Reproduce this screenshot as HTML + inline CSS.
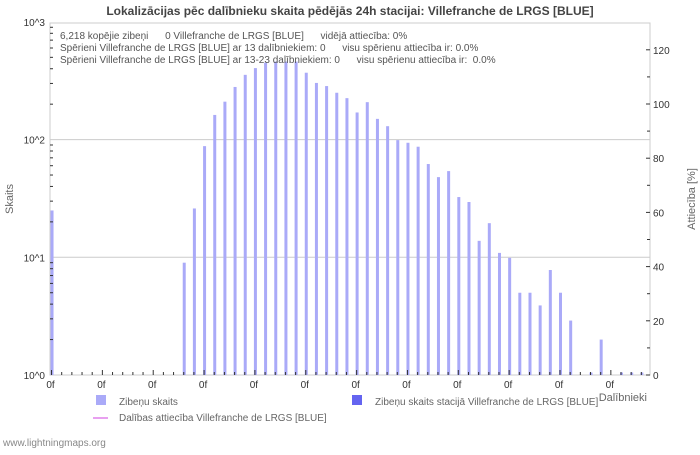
<!DOCTYPE html>
<html><head><meta charset="utf-8"><style>
body{margin:0;background:#fff;width:700px;height:450px;overflow:hidden;font-family:"Liberation Sans",sans-serif}
svg text{font-family:"Liberation Sans",sans-serif}
.pre{white-space:pre}
</style></head><body>
<svg id="c" width="700" height="450" xmlns="http://www.w3.org/2000/svg">
<text x="350" y="15" text-anchor="middle" font-size="12" font-weight="bold" fill="#444">Lokalizācijas pēc dalībnieku skaita pēdējās 24h stacijai: Villefranche de LRGS [BLUE]</text>
<g id="grid"></g><g id="bars"></g><g id="axes"></g>
<g font-size="10" fill="#555" class="pre">
<text class="pre" x="60" y="39">6,218 kopējie zibeņi      0 Villefranche de LRGS [BLUE]      vidējā attiecība: 0%</text>
<text class="pre" x="60" y="51">Spērieni Villefranche de LRGS [BLUE] ar 13 dalībniekiem: 0      visu spērienu attiecība ir: 0.0%</text>
<text class="pre" x="60" y="63">Spērieni Villefranche de LRGS [BLUE] ar 13-23 dalībniekiem: 0      visu spērienu attiecība ir:  0.0%</text>
</g>
<text transform="translate(13,199) rotate(-90)" text-anchor="middle" font-size="11" fill="#666">Skaits</text>
<text transform="translate(695,199) rotate(-90)" text-anchor="middle" font-size="11" fill="#666">Attiecība [%]</text>
<text x="647" y="401" text-anchor="end" font-size="11" fill="#666">Dalībnieki</text>
<g font-size="10" fill="#666">
<rect x="96" y="395" width="10" height="10" fill="#aaaaf8"/>
<text x="119" y="405">Zibeņu skaits</text>
<rect x="352" y="395" width="10" height="10" fill="#6464f0"/>
<text x="375" y="405">Zibeņu skaits stacijā Villefranche de LRGS [BLUE]</text>
<line x1="93" y1="418" x2="108" y2="418" stroke="#e8a0f0" stroke-width="2"/>
<text x="119" y="421">Dalības attiecība Villefranche de LRGS [BLUE]</text>
</g>
<text x="3" y="446" font-size="10" fill="#888">www.lightningmaps.org</text>
</svg>
<script>
const counts=[25,0,0,0,0,0,0,0,0,0,0,0,0,9,26,88,162,210,280,355,405,450,460,460,460,370,303,285,250,225,170,208,150,130,99,94,87,62,48,54,32.5,29.5,13.8,19.5,10.9,9.9,5,5,3.9,7.8,5,2.9,0,1.05,2,0,1.05,1.05,1.05];
const stationCounts=counts.map(()=>0);
const leftTicks=["10^0","10^1","10^2","10^3"];
const rightTicks=[0,20,40,60,80,100,120];
const xLabel="0f";
const NS="http://www.w3.org/2000/svg";
const X0=50,X1=650,Y0=375,Y1=23,DEC=117.7,SLOT=600/59;
function yLog(v){return Y0-Math.log10(Math.max(v,1))*DEC;}
function yPct(p){return Y0-p*2.71;}
function xBar(i){return X0+(i+0.15)*SLOT;}
function mk(t,a,p){const e=document.createElementNS(NS,t);for(const k in a)e.setAttribute(k,a[k]);(p||document.getElementById('axes')).appendChild(e);return e;}
const grid=document.getElementById('grid'),bars=document.getElementById('bars');
for(let d=1;d<=2;d++){const g=mk('line',{x1:X0,x2:X1,y1:Y0-d*DEC,y2:Y0-d*DEC,stroke:'#ccc','stroke-width':1},grid);

}
const fr=mk('rect',{x:X0,y:Y1,width:X1-X0,height:Y0-Y1,fill:'none',stroke:'#ccc','stroke-width':1},grid);


counts.forEach((v,i)=>{if(v<=0)return;const y=yLog(v);const h=Math.max(Y0-y,1.5);
const r=mk('rect',{x:xBar(i)-1,y:Y0-h,width:3,height:h,fill:'#aaaaf8'},bars);


if(stationCounts[i]>0){const s=mk('rect',{x:xBar(i)-1,y:yLog(stationCounts[i]),width:3,height:Y0-yLog(stationCounts[i]),fill:'#6464f0'},bars);

}});
leftTicks.forEach((t,d)=>{const y=Y0-d*DEC;const tx=mk('text',{x:45,y:y+4,'text-anchor':'end','font-size':10,fill:'#333'});tx.textContent=t;


if(d<3)for(let m=2;m<=9;m++){const ym=y-Math.log10(m)*DEC;mk('line',{x1:X0,x2:X0+3,y1:ym,y2:ym,stroke:'#333'});}});
rightTicks.forEach(p=>{const y=yPct(p);mk('line',{x1:X1-4,x2:X1,y1:y,y2:y,stroke:'#333'});
const m=yPct(p+10);if(p<120)mk('line',{x1:X1-3,x2:X1,y1:m,y2:m,stroke:'#333'});
const tx=mk('text',{x:X1+3,y:y+4,'font-size':10,fill:'#333'});tx.textContent=p;

});
for(let i=0;i<counts.length;i++){const x=xBar(i);const big=i%5==0;mk('line',{x1:x,x2:x,y1:Y0,y2:Y0-(big?5:3),stroke:'#333'});
if(big){const tx=mk('text',{x:x-1,y:Y0+13,'text-anchor':'middle','font-size':10,fill:'#333'});tx.textContent=xLabel;

}}
</script>
</body></html>
